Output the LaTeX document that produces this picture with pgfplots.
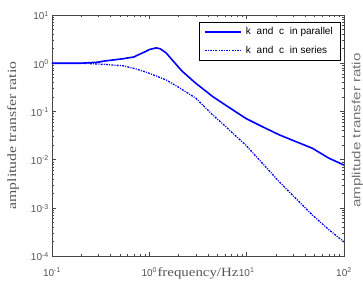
\documentclass[border=0pt]{standalone}
\usepackage{pgfplots}
\pgfplotsset{compat=1.18}
\usepackage{fontspec}
\usepackage{graphicx}
\setmainfont{Liberation Serif}
\newfontfamily\arial{Liberation Sans}
\definecolor{lblgray}{RGB}{85,85,85}
\definecolor{axgray}{RGB}{70,70,70}
\begin{document}
\begin{tikzpicture}
\begin{loglogaxis}[
  name=ax,
  scale only axis, width=292pt, height=241pt,
  xmin=0.1, xmax=100, ymin=1e-4, ymax=10,
  xtick={0.1,1,10,100},
  xticklabels={10\textsuperscript{-1},10\textsuperscript{0},10\textsuperscript{1},10\textsuperscript{2}},
  ytick={1e-4,1e-3,1e-2,1e-1,1,10},
  yticklabels={10\textsuperscript{-4},10\textsuperscript{-3},10\textsuperscript{-2},10\textsuperscript{-1},10\textsuperscript{0},10\textsuperscript{1}},
  tick align=inside, major tick length=4pt, minor tick length=2pt,
  tick style={axgray, line width=0.5pt},
  axis line style={axgray, line width=0.8pt},
  ticklabel style={font=\arial\fontsize{10}{11}\selectfont, text=lblgray, inner sep=0pt},
  xticklabel style={anchor=base, yshift=-20pt},
  yticklabel style={anchor=east, xshift=-3pt, yshift=-0.8pt},
  xlabel={\scalebox{1.18}[1]{frequency/Hz}},
  xlabel style={at={([yshift=-20pt]axis description cs:0.5,0)}, anchor=base, inner sep=0pt, font=\fontsize{12.6}{14}\selectfont, text=lblgray},
  ylabel={\scalebox{1.25}[1]{amplitude transfer ratio}},
  ylabel style={at={([xshift=-45pt]axis description cs:0,0.5)}, anchor=north, inner sep=0pt, font=\fontsize{12.6}{14}\selectfont, text=lblgray},
  legend style={at={(1,1)}, anchor=north east, xshift=-4pt, yshift=-6.5pt, draw=black,
    font=\arial\fontsize{10}{12}\selectfont, inner xsep=5pt, inner ysep=4pt, row sep=5.5pt, column sep=2.5pt,
    nodes={inner sep=2pt}},
  legend cell align=left,
  legend image code/.code={\draw[#1] (0pt,0pt) -- (36pt,0pt);},
]
\addplot[color=blue, line width=1.6pt, solid] coordinates {
(0.1,1.0) (0.2,1.0) (0.3,1.05) (0.335,1.1) (0.54,1.24) (0.7,1.35) (0.74,1.44)
(0.9,1.72) (1.0,1.92) (1.18,2.08) (1.3,1.98) (1.49,1.63) (1.8,1.05) (2.04,0.785)
(2.2,0.667) (3.0,0.384) (4.48,0.203) (6.0,0.137) (9.8,0.0716) (15,0.0466) (21.6,0.0327)
(30,0.0249) (47.3,0.0172) (70,0.0107) (100,0.0077)
};
\addlegendentry{k\kern3pt\ and\kern3pt\ c\kern3pt\ in parallel}
\addplot[color=blue, line width=1.3pt, dash pattern=on 2pt off 1.2pt on 1pt off 1.2pt] coordinates {
(0.1,1.0) (0.2,1.0) (0.335,0.95) (0.54,0.883) (0.74,0.755) (1.0,0.617) (1.49,0.449)
(2.04,0.309) (3.0,0.188) (4.48,0.0844) (6.0,0.0497) (9.8,0.0199) (15,0.0078) (21.6,0.00347)
(30,0.00178) (47.3,7.1e-4) (70,3.5e-4) (100,1.96e-4)
};
\addlegendentry{k\kern3pt\ and\kern3pt\ c\kern3pt\ in series}
\end{loglogaxis}
\node[rotate=90, anchor=north, inner sep=0pt, font=\arial\fontsize{11.8}{13}\selectfont, text=black!55]
  at ([xshift=7.7pt,yshift=5pt]ax.east) {\scalebox{1.28}[1]{amplitude transfer ratio}};
\pgfresetboundingbox
\path[use as bounding box] ([xshift=-52pt,yshift=-28pt]ax.south west) rectangle ([xshift=19pt,yshift=15pt]ax.north east);
\end{tikzpicture}
\end{document}
